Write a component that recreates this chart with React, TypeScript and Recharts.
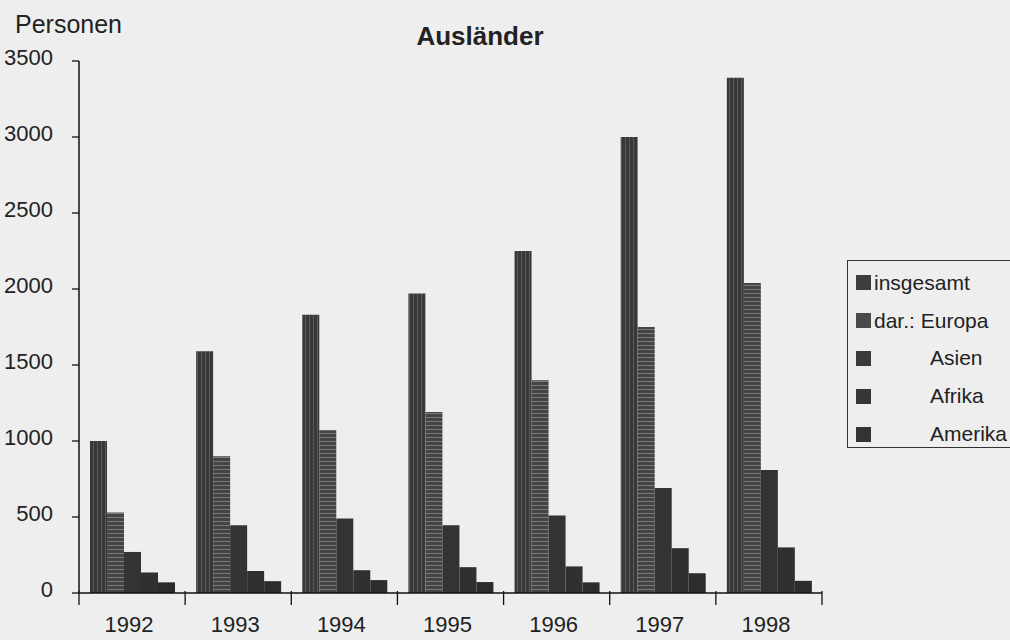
import React from "react";
import { BarChart, Bar, XAxis, YAxis } from "recharts";

const years = ["1992", "1993", "1994", "1995", "1996", "1997", "1998"];
const insgesamt = [1000, 1590, 1830, 1970, 2250, 3000, 3390];
const europa = [530, 900, 1070, 1190, 1400, 1750, 2040];
const asien = [270, 445, 490, 445, 510, 690, 810];
const afrika = [135, 145, 150, 170, 175, 295, 300];
const amerika = [70, 78, 85, 72, 70, 130, 80];
const yTicks = [0, 500, 1000, 1500, 2000, 2500, 3000, 3500];

const series = [
  { key: "insgesamt", label: "insgesamt", fill: "url(#pInsg)", swatch: "#3d3d3d", indent: 0 },
  { key: "europa", label: "dar.: Europa", fill: "url(#pEuro)", swatch: "#4a4a4a", indent: 0 },
  { key: "asien", label: "Asien", fill: "#333333", swatch: "#3a3a3a", indent: 56 },
  { key: "afrika", label: "Afrika", fill: "#303030", swatch: "#363636", indent: 56 },
  { key: "amerika", label: "Amerika", fill: "#2c2c2c", swatch: "#333333", indent: 56 },
];

const data = years.map((y, i) => ({
  year: y,
  insgesamt: insgesamt[i],
  europa: europa[i],
  asien: asien[i],
  afrika: afrika[i],
  amerika: amerika[i],
}));

const W = 1010;
const H = 640;
const margin = { top: 61, right: 188, bottom: 0, left: 0 };
const yAxisW = 79;
const xAxisH = 47;
const bandW = (W - yAxisW - margin.right) / years.length;
const font = "'Liberation Sans', Arial, sans-serif";

function YearTick(props: any) {
  const { x, y, payload, index } = props;
  return (
    <g>
      <line x1={x - bandW / 2} x2={x - bandW / 2} y1={y - 2} y2={y + 12} stroke="#111" strokeWidth={1.3} />
      {index === years.length - 1 && (
        <line x1={x + bandW / 2} x2={x + bandW / 2} y1={y - 2} y2={y + 12} stroke="#111" strokeWidth={1.3} />
      )}
      <text x={x - 3} y={y + 39} textAnchor="middle" fontSize={22} fill="#222" fontFamily={font}>
        {payload.value}
      </text>
    </g>
  );
}

function ValueTick(props: any) {
  const { x, y, payload } = props;
  return (
    <text x={x} y={y + 4} textAnchor="end" fontSize={22} fill="#222" fontFamily={font}>
      {payload.value}
    </text>
  );
}

function LegendBox() {
  return (
    <div
      style={{
        position: "absolute",
        left: 847,
        top: 260,
        border: "1.5px solid #333",
        padding: "3px 0 0 8px",
        width: 200,
        height: 188,
        boxSizing: "border-box",
        fontFamily: font,
        fontSize: 21,
        color: "#222",
      }}
    >
      {series.map((s) => (
        <div key={s.key} style={{ display: "flex", alignItems: "center", height: 37.8 }}>
          <span style={{ width: 15, height: 15, background: s.swatch, display: "inline-block", marginRight: 3 }} />
          <span style={{ paddingLeft: s.indent }}>{s.label}</span>
        </div>
      ))}
    </div>
  );
}

export default function App() {
  return (
    <div style={{ position: "absolute", left: 0, top: 0, width: W, height: H, background: "#eeeeee", overflow: "hidden" }}>
      <div style={{ position: "absolute", left: 15, top: 12, fontFamily: font, fontSize: 25, lineHeight: 1, color: "#222" }}>
        Personen
      </div>
      <div
        style={{
          position: "absolute",
          left: 380,
          width: 200,
          top: 23,
          textAlign: "center",
          fontFamily: font,
          fontSize: 26,
          lineHeight: 1,
          fontWeight: "bold",
          color: "#222",
        }}
      >
        Ausländer
      </div>
      <BarChart width={W} height={H} data={data} margin={margin} barCategoryGap={11} barGap={0}>
        <defs>
          <pattern id="pInsg" width="4" height="4" patternUnits="userSpaceOnUse">
            <rect width="4" height="4" fill="#383838" />
            <rect x="1" width="1" height="4" fill="#5a5a5a" />
          </pattern>
          <pattern id="pEuro" width="4" height="4" patternUnits="userSpaceOnUse">
            <rect width="4" height="4" fill="#444444" />
            <rect y="1" width="4" height="1" fill="#7a7a7a" />
          </pattern>
        </defs>
        <YAxis
          width={yAxisW}
          domain={[0, 3500]}
          ticks={yTicks}
          interval={0}
          tickSize={7}
          tickMargin={19}
          axisLine={{ stroke: "#111", strokeWidth: 1.5 }}
          tickLine={{ stroke: "#111", strokeWidth: 1.3 }}
          tick={<ValueTick />}
        />
        <XAxis
          dataKey="year"
          height={xAxisH}
          tickSize={0}
          tickMargin={0}
          interval={0}
          axisLine={{ stroke: "#111", strokeWidth: 1.5 }}
          tickLine={false}
          tick={<YearTick />}
        />
        {series.map((s) => (
          <Bar key={s.key} dataKey={s.key} name={s.label} fill={s.fill} isAnimationActive={false} />
        ))}
      </BarChart>
      <LegendBox />
    </div>
  );
}
